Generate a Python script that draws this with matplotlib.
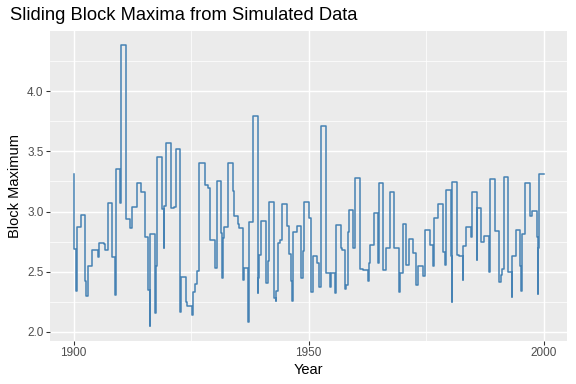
"""Sliding block maxima step chart (ggplot-like look)."""
import matplotlib
matplotlib.use('Agg')
import matplotlib.pyplot as plt

plt.rcParams['font.family'] = ['Liberation Sans', 'DejaVu Sans']

# breakpoints (year) and block maximum level holding from that point on
years = [
    1900.00, 1900.02, 1900.45, 1900.71, 1901.49, 1902.55, 1902.76, 1903.19,
    1904.04, 1905.17, 1905.52, 1906.58, 1906.79, 1907.43, 1908.28, 1908.91,
    1908.95, 1909.05, 1909.12, 1909.97, 1910.19, 1911.25, 1912.09, 1912.52,
    1913.58, 1914.43, 1915.27, 1915.91, 1916.33, 1916.36, 1917.39, 1917.45,
    1917.60, 1917.82, 1918.88, 1919.30, 1919.34, 1919.73, 1920.79, 1921.42,
    1921.85, 1922.70, 1922.95, 1923.97, 1924.18, 1925.24, 1925.52, 1925.95,
    1926.30, 1926.80, 1928.01, 1928.64, 1929.07, 1930.13, 1930.55, 1931.40,
    1931.61, 1931.82, 1932.04, 1932.88, 1933.95, 1934.16, 1935.01, 1935.22,
    1936.07, 1936.20, 1937.13, 1937.34, 1938.19, 1939.25, 1939.30, 1939.39,
    1939.88, 1940.94, 1941.37, 1941.58, 1942.64, 1943.00, 1943.06, 1943.49,
    1943.91, 1944.34, 1945.40, 1945.82, 1946.24, 1946.46, 1946.67, 1947.52,
    1948.37, 1948.79, 1949.00, 1950.06, 1950.49, 1950.91, 1951.76, 1952.18,
    1952.61, 1953.67, 1954.52, 1954.73, 1955.58, 1955.86, 1956.85, 1957.06,
    1957.70, 1957.91, 1958.33, 1958.54, 1959.39, 1959.82, 1960.88, 1961.51,
    1962.57, 1962.79, 1963.00, 1963.85, 1964.69, 1964.91, 1965.75, 1966.39,
    1967.24, 1968.09, 1969.15, 1969.57, 1970.00, 1970.84, 1971.48, 1972.33,
    1972.96, 1973.39, 1974.45, 1974.87, 1975.93, 1976.57, 1976.78, 1977.63,
    1978.69, 1979.11, 1979.33, 1980.39, 1980.55, 1980.62, 1981.66, 1982.08,
    1982.93, 1982.97, 1983.57, 1984.63, 1984.84, 1985.90, 1985.95, 1986.75,
    1987.38, 1988.44, 1988.66, 1989.72, 1990.57, 1990.99, 1991.20, 1991.63,
    1992.47, 1993.32, 1993.36, 1994.17, 1995.02, 1995.23, 1995.44, 1996.08,
    1997.14, 1997.56, 1998.62, 1998.84, 1998.88, 1999.05, 2000.00,
]
maxima = [
    3.31, 2.69, 2.34, 2.87, 2.97, 2.42, 2.30, 2.55,
    2.68, 2.62, 2.74, 2.73, 2.68, 3.07, 2.62, 2.31,
    2.62, 2.56, 3.35, 3.07, 4.385, 2.94, 2.86, 3.04,
    3.24, 3.16, 2.785, 2.35, 2.05, 2.81, 2.16, 2.42,
    2.55, 3.455, 3.02, 2.70, 3.05, 3.567, 3.03, 3.036,
    3.52, 2.17, 2.46, 2.25, 2.215, 2.145, 2.33, 2.40,
    2.51, 3.40, 3.22, 3.20, 2.76, 2.53, 3.25, 2.82,
    2.45, 2.78, 2.87, 3.405, 3.17, 2.96, 2.90, 2.86,
    2.43, 2.53, 2.08, 2.91, 3.79, 2.32, 2.45, 2.64,
    2.92, 2.41, 2.59, 3.08, 2.28, 2.26, 2.34, 2.74,
    2.76, 3.06, 2.88, 2.65, 2.42, 2.26, 2.83, 2.88,
    2.45, 2.67, 3.08, 2.95, 2.33, 2.63, 2.57, 2.37,
    3.715, 2.49, 2.37, 2.49, 2.32, 2.89, 2.70, 2.68,
    2.36, 2.39, 2.83, 3.01, 2.70, 3.28, 2.525, 2.517,
    2.42, 2.575, 2.726, 2.986, 2.57, 3.237, 2.517, 2.70,
    3.162, 2.70, 2.33, 2.49, 2.894, 2.56, 2.77, 2.66,
    2.39, 2.55, 2.466, 2.85, 2.726, 2.55, 2.95, 3.06,
    2.668, 2.556, 3.18, 2.634, 2.25, 3.246, 2.64, 2.634,
    2.43, 2.71, 2.869, 2.785, 3.162, 2.60, 3.028, 2.75,
    2.80, 2.50, 3.27, 2.835, 2.416, 2.475, 2.525, 3.288,
    2.50, 2.29, 2.634, 2.844, 2.55, 2.34, 2.81, 3.237,
    2.96, 3.003, 2.785, 2.316, 2.70, 3.313, 3.313,
]

x_ticks = [1900, 1950, 2000]
y_ticks = [2.0, 2.5, 3.0, 3.5, 4.0]

fig = plt.figure(figsize=(6, 4), dpi=96)
ax = fig.add_axes([50 / 576, 43 / 384, 517 / 576, 310 / 384])
ax.set_facecolor('#EBEBEB')

ax.step(years, maxima, where='post', color='#4682B4', linewidth=1.15, zorder=3)

ax.set_xlim(1895, 2005)
ax.set_ylim(1.925, 4.50)
ax.set_xticks(x_ticks)
ax.set_yticks(y_ticks)
ax.set_yticklabels(['2.0', '2.5', '3.0', '3.5', '4.0'])
ax.set_xticks([1925, 1975], minor=True)
ax.set_yticks([2.25, 2.75, 3.25, 3.75, 4.25], minor=True)

ax.grid(True, which='major', color='white', linewidth=1.1)
ax.grid(True, which='minor', color='white', linewidth=0.55)
ax.set_axisbelow(True)
for s in ax.spines.values():
    s.set_visible(False)
ax.tick_params(which='major', length=2.75, width=0.8, color='#333333',
               labelcolor='#4D4D4D', labelsize=8.8, pad=2)
ax.tick_params(which='minor', length=0)

ax.set_xlabel('Year', fontsize=11, labelpad=3)
ax.set_ylabel('Block Maximum', fontsize=11, labelpad=4)
fig.text(10 / 576, 1 - 16 / 384, 'Sliding Block Maxima from Simulated Data',
         fontsize=13.8, ha='left', va='center')

fig.savefig('out.png', dpi=96)
